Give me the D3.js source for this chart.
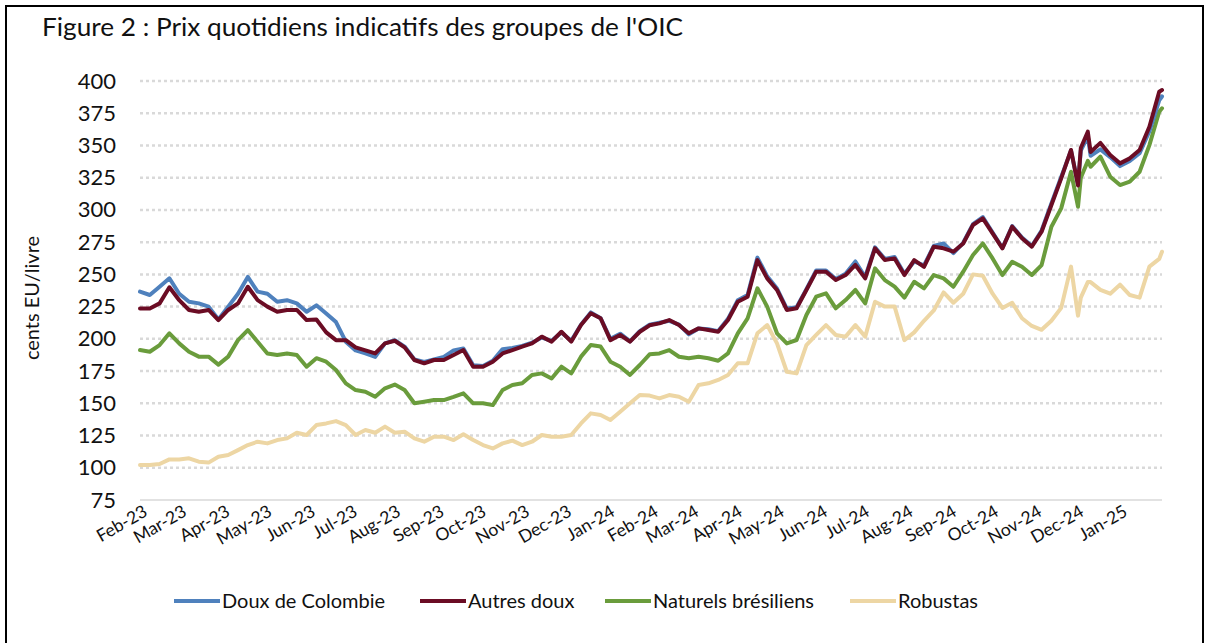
<!DOCTYPE html>
<html><head><meta charset="utf-8">
<script src="https://cdn.jsdelivr.net/npm/d3@7"></script>
<style>
body{margin:0;background:#fff}
svg{display:block}
text{font-family:Lato,"Open Sans",sans-serif;fill:#111}
</style>
</head><body>
<svg id="chart" width="1209" height="643"></svg>
<script>
// ---------- data ----------
const dates = [
"2023-02-01","2023-02-08","2023-02-15","2023-02-22","2023-03-01","2023-03-08","2023-03-15","2023-03-22","2023-03-29",
"2023-04-05","2023-04-12","2023-04-19","2023-04-26","2023-05-03","2023-05-10","2023-05-17","2023-05-24","2023-05-31",
"2023-06-07","2023-06-14","2023-06-21","2023-06-28","2023-07-05","2023-07-12","2023-07-19","2023-07-26",
"2023-08-02","2023-08-09","2023-08-16","2023-08-23","2023-08-30","2023-09-06","2023-09-13","2023-09-20","2023-09-27",
"2023-10-04","2023-10-11","2023-10-18","2023-10-25","2023-11-01","2023-11-08","2023-11-15","2023-11-22","2023-11-29",
"2023-12-06","2023-12-13","2023-12-20","2023-12-27","2024-01-03","2024-01-10","2024-01-17","2024-01-24","2024-01-31",
"2024-02-07","2024-02-14","2024-02-21","2024-02-28","2024-03-06","2024-03-13","2024-03-20","2024-03-27",
"2024-04-03","2024-04-10","2024-04-17","2024-04-24","2024-05-01","2024-05-08","2024-05-15","2024-05-22","2024-05-29",
"2024-06-05","2024-06-12","2024-06-19","2024-06-26","2024-07-03","2024-07-10","2024-07-17","2024-07-24","2024-07-31",
"2024-08-07","2024-08-14","2024-08-21","2024-08-28","2024-09-04","2024-09-11","2024-09-18","2024-09-25",
"2024-10-02","2024-10-09","2024-10-16","2024-10-23","2024-10-30","2024-11-06","2024-11-13","2024-11-20","2024-11-27",
"2024-12-02","2024-12-04","2024-12-09","2024-12-11","2024-12-18","2024-12-25",
"2025-01-01","2025-01-08","2025-01-15","2025-01-22","2025-01-29","2025-01-31"
];
const colombianMilds = [
236.6,234,240.4,247,235,228.8,227.5,225,215,225,235,248,236.6,235,228.8,230,227.5,221,226,219.7,213,197.8,191,188.7,186,196.5,199,
194,184,182,184,186,191,192.5,179.5,179,183,192,193,194.5,197,201,198.5,205,198.5,211,220.5,216,200,204,198,206,211,
212.5,214,211,203.5,208,207.5,206,215.5,230,234,263,248.5,239,223.5,224.5,238.5,253,253,246.5,250.5,260,248,271,262,263.5,250.5,
260,257,272,274,266.5,274.5,289,294.5,282.5,270.5,287.5,278.5,272,284,305,325.5,346,
320,346,357,342,347,341,334,338,344,361,385,388
];
const otherMilds = [
223.6,223.6,227.5,240,230,222.4,221,222.4,214.6,222.4,227.5,240.4,230,225,221,222.4,222.4,214.6,215,205,199,199,193.4,191,188.7,196.5,198.5,
193.4,183.6,181,183.6,183.6,187.5,191.3,178.4,178.4,182.3,188.7,191.3,194,196.5,201.7,197.8,205.5,197.8,210.7,219.8,216,199,203,197.8,205.5,210.5,
212,214.6,210.7,204.3,208.1,206.8,205.5,214.6,228.8,232.7,261.1,246.9,237.9,222.4,223.7,237.9,252.1,252.1,245.6,249.5,257.3,246.9,270.2,261.1,262.4,249.5,
261.1,255.9,271.5,270.2,267.6,274,288.3,293.5,281.8,270.2,287,278,271.5,283.1,303.8,324.5,346.5,
319,348,360.7,345,352,342.6,336.1,340,346.5,364.5,391.7,393
];
const brazilianNaturals = [
191.3,190,195.2,204.3,196.5,190,186.2,186.2,180,186.2,199,206.8,197.8,188.7,187.5,188.7,187.5,178.4,185,182.3,175.8,165.5,160.3,159,155.1,161.6,164.5,
160.3,150,151.2,152.5,152.5,155,157.7,150,150,148.6,160.3,164.2,165.5,172,173.2,169.3,178.4,173.2,186.2,195.2,194,182.3,178.4,172,179.7,188,
188.7,191.3,186.1,184.9,186.1,184.9,183,188.7,204.3,215.9,239.2,225,204.3,196.5,199.1,218.5,232.7,235.3,223.7,230.1,237.9,227.5,254.7,245.6,240.5,232,
244.3,239.1,249.5,246.9,240.4,252.1,265,274,262.4,249.5,259.8,255.9,249.5,257.2,287,301.2,329.6,
302.5,325,338,333.5,341.3,325.8,319.3,321.9,329.6,350.3,376.2,378.8
];
const robustas = [
102.1,102.1,102.9,106.5,106.5,107.3,104.7,104,108.6,109.9,113.7,117.6,120.2,118.9,121.5,122.8,127.2,125.4,133.1,134.4,136.2,133.1,125.4,129.3,127.2,131.9,127.2,
128,122.8,120.2,124.1,124.1,121.5,126,121.5,117.6,115,118.9,121,117.6,120.2,125.4,124.1,124.1,125.4,134.4,142.2,140.9,137,143.5,150,156.4,156,
153.8,156.4,155.1,151.2,164.2,165.5,168.1,171.9,181,181,204.3,210.7,196.5,174.5,173.2,195.2,203,210.7,203,201.7,210.7,201.7,228.8,225,225,199,
205,214,222,236,228,235,250,249,235,224,228,216,210,207,214,224,256,
218,232,244,244,238,235,242,234,232,256,262,267.6
];
const seriesNames = ["Doux de Colombie","Autres doux","Naturels brésiliens","Robustas"];
const seriesColors = ["#4f81bd","#6b0c24","#6a9c3c","#edd6a4"];
const yTicks = [75,100,125,150,175,200,225,250,275,300,325,350,375,400];
const titleText = "Figure 2 : Prix quotidiens indicatifs des groupes de l'OIC";
const yTitle = "cents EU/livre";

// ---------- chart ----------
const svg = d3.select("#chart");
const parse = d3.timeParse("%Y-%m-%d");
const dts = dates.map(parse);
const x = d3.scaleTime().domain([parse("2023-02-01"), parse("2025-01-31")]).range([140, 1162]);
const y = d3.scaleLinear().domain([75, 400]).range([500, 81]);

// outer frame
svg.append("rect").attr("x",6).attr("y",6).attr("width",1197).attr("height",650)
  .attr("fill","none").attr("stroke","#000").attr("stroke-width",2);

// title
svg.append("text").attr("x",42).attr("y",36).attr("font-size",25)
  .attr("textLength",641).attr("lengthAdjust","spacingAndGlyphs").text(titleText);

// grid
svg.append("g").selectAll("line").data(yTicks).join("line")
  .attr("x1",140).attr("x2",1162)
  .attr("y1",d=>y(d)).attr("y2",d=>y(d))
  .attr("stroke","#d9d9d9").attr("stroke-width",d=>d===75?1.5:2.5)
  .attr("stroke-dasharray",d=>d===75?null:"3,3");

// y axis labels
const yAxis = d3.axisLeft(y).tickValues(yTicks).tickSize(0).tickPadding(0);
const gy = svg.append("g").attr("transform","translate(116,0)").call(yAxis);
gy.select(".domain").remove();
gy.selectAll("text").attr("font-size",22).attr("font-family","Lato").attr("fill","#111");

// y title
svg.append("text").attr("transform","translate(39,298) rotate(-90)")
  .attr("text-anchor","middle").attr("font-size",20).text(yTitle);

// x axis labels
const months = d3.timeMonth.range(parse("2023-02-01"), parse("2025-02-01"));
const fmt = d3.timeFormat("%b-%y");
const xAxis = d3.axisBottom(x).tickValues(months).tickFormat(fmt).tickSize(0).tickPadding(0);
const gx = svg.append("g").attr("transform","translate(0,500)").call(xAxis);
gx.select(".domain").remove();
gx.selectAll("text")
  .attr("font-size",17.5).attr("font-family","Lato").attr("fill","#111")
  .attr("text-anchor","end").attr("dy",null).attr("y",null)
  .attr("transform","translate(8,15) rotate(-30)");

// lines
const allSeries = [colombianMilds, otherMilds, brazilianNaturals, robustas];
const line = d3.line().x((d,i)=>x(dts[i])).y(d=>y(d)).curve(d3.curveLinear);
const order = [3,2,0,1];
order.forEach(k=>{
  svg.append("path").datum(allSeries[k]).attr("d",line)
    .attr("fill","none").attr("stroke",seriesColors[k]).attr("stroke-width",4)
    .attr("stroke-linejoin","round").attr("stroke-linecap","round");
});

// legend
const legendX = [174,420,605,850];
const lg = svg.append("g");
seriesNames.forEach((n,i)=>{
  lg.append("line").attr("x1",legendX[i]).attr("x2",legendX[i]+46).attr("y1",601).attr("y2",601)
    .attr("stroke",seriesColors[i]).attr("stroke-width",4);
  lg.append("text").attr("x",legendX[i]+48).attr("y",601).attr("dy","0.35em")
    .attr("font-size",20).text(n);
});
</script>
</body></html>
